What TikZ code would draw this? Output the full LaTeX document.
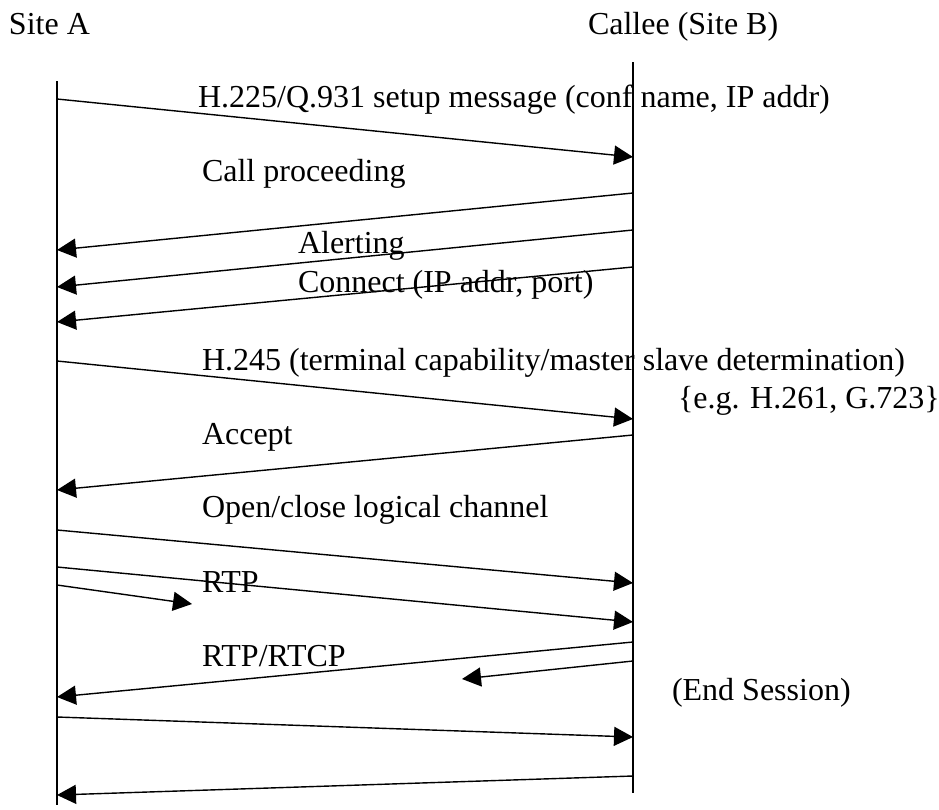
\documentclass[tikz,border=0pt]{standalone}
\usepackage{fontspec}
\setmainfont{Liberation Serif}
\usetikzlibrary{arrows.meta}
\begin{document}
\begin{tikzpicture}[x=1pt,y=-1pt,
  lbl/.style={anchor=base west, inner sep=0pt, outer sep=0pt,
              font=\fontsize{32}{38}\selectfont},
  lifeline/.style={line width=1.4pt},
  msg/.style={line width=1.4pt, -{Triangle[length=19pt,width=19pt]}}]
\useasboundingbox (0,0) rectangle (939,809);

% party names
\node[lbl] (siteA) at (9,34) {Site A};
\node[lbl] (siteB) at (588,34) {Callee (Site B)};

% lifelines
\coordinate (Atop) at (57,81);
\coordinate (Abot) at (57,805);
\coordinate (Btop) at (633,62);
\coordinate (Bbot) at (633,793);
\draw[lifeline] (Atop) -- (Abot);
\draw[lifeline] (Btop) -- (Bbot);

% message end points on the lifelines
\coordinate (a1) at (57,99);   \coordinate (b1) at (633,157);
\coordinate (b2) at (633,193); \coordinate (a2) at (57,250);
\coordinate (b3) at (633,230); \coordinate (a3) at (57,287);
\coordinate (b4) at (633,267); \coordinate (a4) at (57,322);
\coordinate (a5) at (57,361);  \coordinate (b5) at (633,419);
\coordinate (b6) at (633,435); \coordinate (a6) at (57,490);
\coordinate (a7) at (57,530);  \coordinate (b7) at (633,583);
\coordinate (a8) at (57,567);  \coordinate (b8) at (633,622);
\coordinate (a9) at (57,585);  \coordinate (m9) at (192,604);
\coordinate (b10) at (633,642); \coordinate (a10) at (57,697);
\coordinate (b11) at (633,661); \coordinate (m11) at (462,679);
\coordinate (a12) at (57,717); \coordinate (b12) at (633,737);
\coordinate (b13) at (633,776); \coordinate (a13) at (57,795);

% messages
\draw[msg] (a1) -- (b1);
\draw[msg] (b2) -- (a2);
\draw[msg] (b3) -- (a3);
\draw[msg] (b4) -- (a4);
\draw[msg] (a5) -- (b5);
\draw[msg] (b6) -- (a6);
\draw[msg] (a7) -- (b7);
\draw[msg] (a8) -- (b8);
\draw[msg] (a9) -- (m9);
\draw[msg] (b10) -- (a10);
\draw[msg] (b11) -- (m11);
\draw[msg] (a12) -- (b12);
\draw[msg] (b13) -- (a13);

% message labels
\node[lbl] (t1) at (198,107) {H.225/Q.931 setup message (conf name, IP addr)};
\node[lbl] (t2) at (202,181) {Call proceeding};
\node[lbl] (t3) at (298,253) {Alerting};
\node[lbl] (t4) at (298,292) {Connect (IP addr, port)};
\node[lbl] (t5) at (202,370) {H.245 (terminal capability/master slave determination)};
\node[lbl] (t5b) at (678,408) {\{e.g. H.261, G.723\}};
\node[lbl] (t6) at (202,444) {Accept};
\node[lbl] (t7) at (202,517) {Open/close logical channel};
\node[lbl] (t8) at (202,592) {RTP};
\node[lbl] (t9) at (202,666) {RTP/RTCP};
\node[lbl] (t10) at (672,700) {(End Session)};
\end{tikzpicture}
\end{document}
